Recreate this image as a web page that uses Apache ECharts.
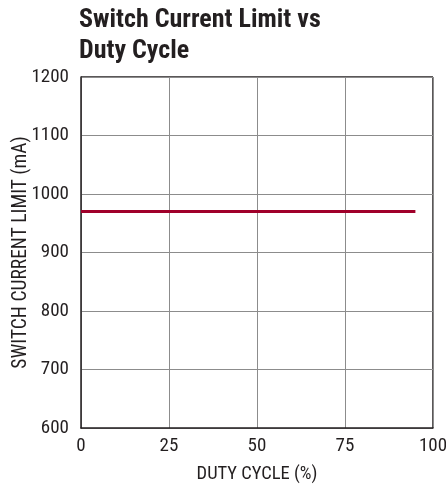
<!DOCTYPE html>
<html><head><meta charset="utf-8">
<script src="https://cdn.jsdelivr.net/npm/echarts@6/dist/echarts.min.js"></script>
<style>html,body{margin:0;padding:0;background:#fff}#c{width:446px;height:489px}</style>
</head><body><div id="c"></div>
<script>
const xTicks = [0, 25, 50, 75, 100];
const yTicks = [600, 700, 800, 900, 1000, 1100, 1200];
const dutyCycle = [0, 95];
const currentLimit = [970, 970];
const FONT = '"Roboto Condensed", "Liberation Sans Narrow", "Liberation Sans", sans-serif';
const chart = echarts.init(document.getElementById('c'));
chart.setOption({
  animation: false,
  title: {
    text: 'Switch Current Limit vs\nDuty Cycle',
    left: 79, top: 5, padding: 0,
    textStyle: {fontFamily: FONT, fontWeight: 'bold', fontSize: 26, lineHeight: 31, color: '#231f20'}
  },
  grid: {left: 81, right: 13, top: 77, bottom: 61, outerBoundsMode: 'none', containLabel: false},
  xAxis: {
    type: 'value', min: xTicks[0], max: xTicks[xTicks.length-1], interval: 25,
    name: 'DUTY CYCLE (%)', nameLocation: 'middle', nameGap: 37, nameMoveOverlap: false,
    nameTextStyle: {fontFamily: FONT, fontSize: 18.5, color: '#231f20'},
    axisLine: {show: true, lineStyle: {color: '#231f20', width: 1.5}},
    axisTick: {show: false},
    axisLabel: {fontFamily: FONT, fontSize: 19, color: '#231f20', margin: 9},
    splitLine: {show: true, lineStyle: {color: '#8c8c8c', width: 1}}
  },
  yAxis: {
    type: 'value', min: yTicks[0], max: yTicks[yTicks.length-1], interval: 100,
    name: 'SWITCH CURRENT LIMIT (mA)', nameLocation: 'middle', nameGap: 50, nameRotate: 90, nameMoveOverlap: false,
    nameTextStyle: {fontFamily: FONT, fontSize: 19.5, color: '#231f20'},
    axisLine: {show: true, lineStyle: {color: '#231f20', width: 1.5}},
    axisTick: {show: false},
    axisLabel: {fontFamily: FONT, fontSize: 19, color: '#231f20', margin: 12, formatter: v => String(v)},
    splitLine: {show: true, lineStyle: {color: '#8c8c8c', width: 1}}
  },
  series: [{
    type: 'line', symbol: 'none',
    data: dutyCycle.map((x, i) => [x, currentLimit[i]]),
    lineStyle: {color: '#a0002a', width: 3}
  }],
  graphic: [
    {type: 'line', shape: {x1: 433, y1: 77, x2: 433, y2: 428}, style: {stroke: '#231f20', lineWidth: 1.5}},
    {type: 'line', shape: {x1: 81, y1: 77, x2: 433, y2: 77}, style: {stroke: '#231f20', lineWidth: 1.5}}
  ]
});
</script></body></html>
